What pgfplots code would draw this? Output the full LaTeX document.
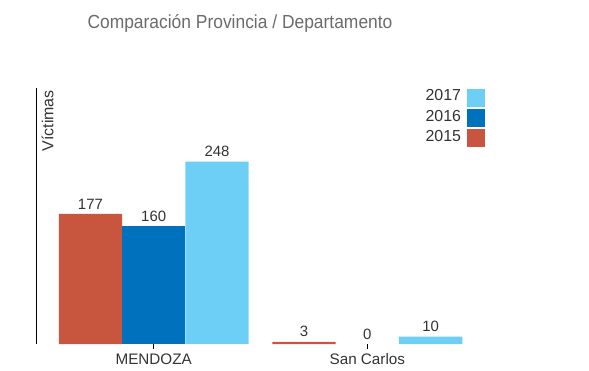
\documentclass[border=0pt]{standalone}
\usepackage{pgfplots}
\pgfplotsset{compat=1.18}
\usepackage{fontspec}
\setmainfont{Liberation Sans}
\newfontfamily\titlefont[FakeStretch=0.92]{Liberation Sans}
\definecolor{cRed}{HTML}{C8553D}
\definecolor{cBlue}{HTML}{0071BC}
\definecolor{cLight}{HTML}{6DCFF6}
\definecolor{txt}{HTML}{333333}
\definecolor{ttl}{HTML}{6B6B6B}
\begin{document}
\begin{tikzpicture}
\useasboundingbox (0,0) rectangle (589bp,371bp);
\begin{axis}[
  at={(36.5bp,27bp)}, anchor=south west,
  scale only axis, width=459bp, height=256bp,
  xmin=-0.5487, xmax=1.6, ymin=0, ymax=348.3,
  ybar=0pt, bar width=63.3bp,
  /pgf/number format/assume math mode=true,
  axis y line=left, axis x line=bottom,
  axis line style={-, line width=0.8bp, black},
  x axis line style={draw=none},
  ytick=\empty, xtick={0,1}, xticklabels={MENDOZA,San Carlos},
  tick align=outside, major tick length=5bp,
  xtick style={black, line width=0.8bp},
  xticklabel style={font=\fontsize{15.3}{18}\selectfont, text=txt, inner sep=0pt, yshift=-4.3bp},
  nodes near coords,
  every node near coord/.append style={font=\fontsize{15}{18}\selectfont, text=txt, inner sep=0pt, yshift=4.5bp},
  legend plot pos=right,
  reverse legend,
  legend style={draw=none, fill=none, at={(0.9771,0.9961)}, anchor=north east,
    font=\fontsize{16}{19}\selectfont, text=txt, row sep=2.7bp, inner sep=0pt,
    nodes={inner sep=0pt}, /tikz/every odd column/.append style={column sep=6.3bp}},
  legend image code/.code={\fill[#1] (0bp,-10.5bp) rectangle (17.5bp,6.9bp);},
  clip=false,
]
\addplot[fill=cRed, draw=none, bar shift=-63.3bp] coordinates {(0,177) (1,3)};
\addplot[fill=cBlue, draw=none, bar shift=0bp] coordinates {(0,160)};
\addplot[fill=cLight, draw=none, bar shift=63.3bp] coordinates {(0,248) (1,10)};
\addplot[fill=none, draw=none, bar shift=0bp, forget plot] coordinates {(1,0)};
\legend{2015,2016,2017}
\end{axis}
\node[anchor=base, inner sep=0pt, text=ttl, font=\titlefont\fontsize{19}{22}\selectfont] at (240bp,342bp) {Comparación Provincia / Departamento};
\node[rotate=90, anchor=base east, inner sep=0pt, text=txt, font=\fontsize{16}{19}\selectfont] at (53.3bp,281bp) {Víctimas};
\end{tikzpicture}
\end{document}
